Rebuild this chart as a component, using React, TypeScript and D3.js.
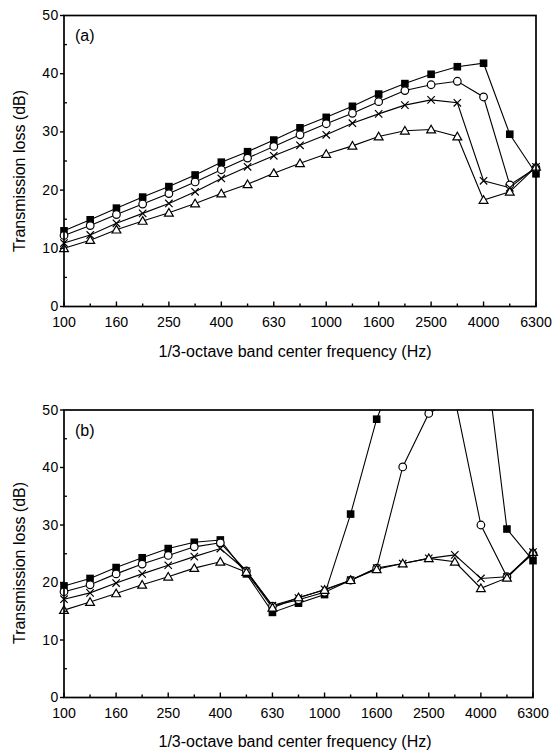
import React from "react";
import * as d3 from "d3";

const bands = ["100","125","160","200","250","315","400","500","630","800","1000","1250","1600","2000","2500","3150","4000","5000","6300"];
const tickLabels = ["100","160","250","400","630","1000","1600","2500","4000","6300"];

// Panel (a)
const aSquare = [13.0,14.9,16.9,18.8,20.6,22.6,24.8,26.6,28.6,30.7,32.5,34.4,36.5,38.3,39.9,41.2,41.8,29.6,22.8];
const aCircle = [12.2,13.9,15.8,17.6,19.4,21.4,23.5,25.5,27.5,29.5,31.4,33.2,35.2,37.1,38.1,38.7,36.0,20.9,23.8];
const aCross  = [10.9,12.3,14.3,16.0,17.7,19.7,22.0,24.0,25.9,27.7,29.5,31.5,33.1,34.6,35.5,35.0,21.6,20.4,24.0];
const aTri    = [10.0,11.4,13.2,14.7,16.1,17.7,19.4,21.0,22.9,24.6,26.2,27.6,29.2,30.2,30.4,29.2,18.3,19.7,24.0];

// Panel (b)
const bSquare = [19.4,20.7,22.6,24.3,25.9,27.0,27.4,21.5,14.8,16.4,17.9,31.9,48.4,60,68,70,66,29.3,23.8];
const bCircle = [18.4,19.6,21.5,23.2,24.7,26.2,26.9,22.0,15.9,17.0,18.3,20.4,22.5,40.1,49.4,52,30.0,21.0,25.0];
const bCross  = [17.1,18.2,19.9,21.5,23.0,24.5,25.9,22.0,16.0,17.3,18.8,20.4,22.5,23.3,24.2,24.8,20.7,21.0,25.3];
const bTri    = [15.2,16.6,18.1,19.6,21.0,22.5,23.6,21.8,15.6,17.4,18.7,20.4,22.3,23.3,24.2,23.6,19.0,20.8,25.3];

const yTicks = [0,10,20,30,40,50];
const yMinor = [5,15,25,35,45];

type Panel = {
  label: string;
  left: number; right: number; top: number; bottom: number;
  series: number[][];
  tickY: number; titleY: number; ylabY: number;
  clipId: string;
};

const FONT = "'Liberation Sans', Arial, sans-serif";

function Marker({ kind, x, y }: { kind: number; x: number; y: number }) {
  if (kind === 0) return <rect x={x - 3.8} y={y - 3.8} width={7.6} height={7.6} fill="#000" />;
  if (kind === 1) return <circle cx={x} cy={y} r={3.8} fill="#fff" stroke="#000" strokeWidth={1.2} />;
  if (kind === 2)
    return (
      <path d={`M${x - 3.7},${y - 3.7}L${x + 3.7},${y + 3.7}M${x - 3.7},${y + 3.7}L${x + 3.7},${y - 3.7}`} stroke="#000" strokeWidth={1.2} fill="none" />
    );
  return <path d={`M${x},${y - 4.3}L${x + 4.4},${y + 3.3}L${x - 4.4},${y + 3.3}Z`} fill="#fff" stroke="#000" strokeWidth={1.2} />;
}

function PanelView({ p }: { p: Panel }) {
  const x = d3.scalePoint<string>().domain(bands).range([p.left, p.right]);
  const y = d3.scaleLinear().domain([0, 50]).range([p.bottom, p.top]);
  const line = d3.line<number>().x((_, i) => x(bands[i]) as number).y((d) => y(d));
  return (
    <g>
      <defs>
        <clipPath id={p.clipId}>
          <rect x={p.left - 10} y={p.top} width={p.right - p.left + 20} height={p.bottom - p.top} />
        </clipPath>
      </defs>
      <g clipPath={`url(#${p.clipId})`}>
        {p.series.map((s, k) => (
          <path key={k} d={line(s) || ""} fill="none" stroke="#000" strokeWidth={1.1} />
        ))}
        {p.series.map((s, k) =>
          s.map((v, i) => <Marker key={k + "-" + i} kind={k} x={x(bands[i]) as number} y={y(v)} />)
        )}
      </g>
      <rect x={p.left} y={p.top} width={p.right - p.left} height={p.bottom - p.top} fill="none" stroke="#000" strokeWidth={1.7} />
      {bands.map((b, i) => (
        <line key={b} x1={x(b)} x2={x(b)} y1={p.bottom} y2={p.bottom - (i % 2 === 0 ? 5 : 3)} stroke="#000" strokeWidth={1.4} />
      ))}
      {tickLabels.map((t) => (
        <text key={t} x={x(t)} y={p.tickY} textAnchor="middle" dominantBaseline="central" fontFamily={FONT} fontSize={14.2} fill="#000">
          {t}
        </text>
      ))}
      {yTicks.map((t) => (
        <g key={t}>
          <line x1={p.left - 4} x2={p.left} y1={y(t)} y2={y(t)} stroke="#000" strokeWidth={1.4} />
          <text x={p.left - 5} y={y(t) - 0.5} textAnchor="end" dominantBaseline="central" fontFamily={FONT} fontSize={14} letterSpacing={0.6} fill="#000">
            {t}
          </text>
        </g>
      ))}
      {yMinor.map((t) => (
        <line key={t} x1={p.left} x2={p.left + 3} y1={y(t)} y2={y(t)} stroke="#000" strokeWidth={1.3} />
      ))}
      <text x={p.left + 11} y={p.top + 20} dominantBaseline="central" fontFamily={FONT} fontSize={16} fill="#000">
        {p.label}
      </text>
      <text
        transform={`translate(19,${p.ylabY}) rotate(-90)`}
        textAnchor="middle"
        dominantBaseline="central"
        fontFamily={FONT}
        fontSize={16}
        fill="#000"
      >
        Transmission loss (dB)
      </text>
      <text x={295} y={p.titleY} textAnchor="middle" dominantBaseline="central" fontFamily={FONT} fontSize={16} fill="#000">
        1/3-octave band center frequency (Hz)
      </text>
    </g>
  );
}

export default function App() {
  const panels: Panel[] = [
    { label: "(a)", left: 64, right: 536, top: 15.5, bottom: 306.5, series: [aSquare, aCircle, aCross, aTri], tickY: 322, titleY: 351, ylabY: 171, clipId: "clipA" },
    { label: "(b)", left: 64, right: 533, top: 410, bottom: 697.5, series: [bSquare, bCircle, bCross, bTri], tickY: 712.5, titleY: 741, ylabY: 563, clipId: "clipB" },
  ];
  return (
    <svg width={559} height={751} style={{ position: "absolute", left: 0, top: 0, background: "#fff" }}>
      <rect width={559} height={751} fill="#fff" />
      {panels.map((p) => (
        <PanelView key={p.label} p={p} />
      ))}
    </svg>
  );
}
